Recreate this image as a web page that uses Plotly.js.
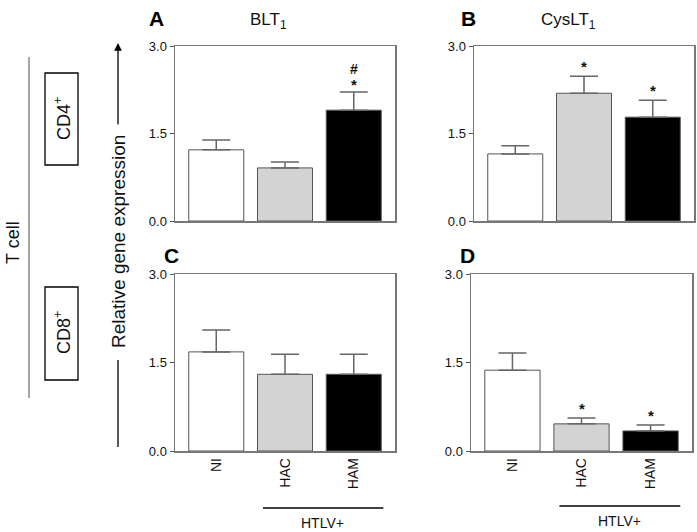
<!DOCTYPE html>
<html>
<head>
<meta charset="utf-8">
<script src="https://cdn.plot.ly/plotly-3.0.1.min.js"></script>
<style>html,body{margin:0;padding:0;background:#fff;}#chart{width:697px;height:532px;}</style>
</head>
<body>
<div id="chart"></div>
<script>
// ---- data ----
const categories = ['NI', 'HAC', 'HAM'];
const barColors = ['#ffffff', '#d3d3d3', '#000000'];
const cd4BLT1 = [1.22, 0.91, 1.90];
const cd4BLT1Err = [0.17, 0.10, 0.31];
const cd4CysLT1 = [1.15, 2.19, 1.78];
const cd4CysLT1Err = [0.14, 0.29, 0.29];
const cd8BLT1 = [1.68, 1.30, 1.30];
const cd8BLT1Err = [0.37, 0.34, 0.34];
const cd8CysLT1 = [1.37, 0.46, 0.34];
const cd8CysLT1Err = [0.29, 0.10, 0.10];
const cd4BLT1Marks = ['', '', '*'];
const cd4BLT1Marks2 = ['', '', '#'];
const cd4CysLT1Marks = ['', '*', '*'];
const cd8BLT1Marks = ['', '', ''];
const cd8CysLT1Marks = ['', '*', '*'];
const yTickVals = [0, 1.5, 3];
const yTickText = ['0.0', '1.5', '3.0'];
const panelLetters = ['A', 'B', 'C', 'D'];
const panelTitles = ['BLT<sub>1</sub>', 'CysLT<sub>1</sub>'];

const W = 697, H = 532;
const px = v => v / W;
const py = v => 1 - v / H;
const FONT = 'Liberation Sans, Arial, sans-serif';

function barTrace(vals, errs, xa, ya) {
  return {
    type: 'bar', x: categories, y: vals, xaxis: xa, yaxis: ya,
    width: 0.8,
    marker: {color: barColors, line: {color: '#555', width: 1}},
    error_y: {type: 'data', array: errs, arrayminus: errs.map(() => 0), symmetric: false,
      color: '#666', thickness: 1.5, width: 14},
    showlegend: false, hoverinfo: 'skip'
  };
}

const data = [
  barTrace(cd4BLT1, cd4BLT1Err, 'x', 'y'),
  barTrace(cd4CysLT1, cd4CysLT1Err, 'x2', 'y2'),
  barTrace(cd8BLT1, cd8BLT1Err, 'x3', 'y3'),
  barTrace(cd8CysLT1, cd8CysLT1Err, 'x4', 'y4')
];

function xAxis(dom, anchor, showLabels) {
  return {
    domain: dom, anchor: anchor, range: [-0.6, 2.6], type: 'category',
    showline: true, mirror: true, linecolor: '#777', linewidth: 1.5,
    ticks: '', showgrid: false, zeroline: false,
    showticklabels: showLabels, tickangle: -90,
    tickfont: {family: FONT, size: 14, color: '#111'}, fixedrange: true
  };
}
function yAxis(dom, anchor) {
  return {
    domain: dom, anchor: anchor, range: [0, 3],
    tickvals: yTickVals, ticktext: yTickText,
    showline: true, mirror: true, linecolor: '#777', linewidth: 1.5,
    ticks: 'outside', ticklen: 4, tickcolor: '#555', tickwidth: 1,
    showgrid: false, zeroline: false,
    tickfont: {family: FONT, size: 13, color: '#111'}, fixedrange: true
  };
}

const topDom = [py(221), py(46)];
const botDom = [py(451), py(274)];
const leftDom = [px(175), px(395)];
const rightTopDom = [px(474), px(694)];
const rightBotDom = [px(471), px(692)];

const annotations = [];
function marks(list, vals, errs, xa, ya, shift, size) {
  list.forEach((m, i) => {
    if (!m) return;
    annotations.push({x: categories[i], y: vals[i] + errs[i], xref: xa, yref: ya,
      text: '<b>' + m + '</b>', showarrow: false, xanchor: 'center', yanchor: 'bottom', yshift: shift,
      font: {family: FONT, size: size || 15, color: '#111'}});
  });
}
marks(cd4BLT1Marks, cd4BLT1, cd4BLT1Err, 'x', 'y', -3);
marks(cd4BLT1Marks2, cd4BLT1, cd4BLT1Err, 'x', 'y', 13, 14);
marks(cd4CysLT1Marks, cd4CysLT1, cd4CysLT1Err, 'x2', 'y2', -1);
marks(cd8BLT1Marks, cd8BLT1, cd8BLT1Err, 'x3', 'y3', -1);
marks(cd8CysLT1Marks, cd8CysLT1, cd8CysLT1Err, 'x4', 'y4', -1);

function txt(x, y, text, size, angle, extra) {
  return Object.assign({x: px(x), y: py(y), xref: 'paper', yref: 'paper', text: text,
    showarrow: false, xanchor: 'center', yanchor: 'middle', textangle: angle || 0,
    font: {family: FONT, size: size, color: '#111'}}, extra || {});
}

// panel letters & titles
const letterPos = [[156, 18], [468, 18], [171, 255], [467, 255]];
panelLetters.forEach((l, i) => {
  annotations.push(txt(letterPos[i][0], letterPos[i][1], '<b>' + l + '</b>', 21, 0,
    {font: {family: FONT, size: 21, color: '#000'}}));
});
annotations.push(txt(268, 21, panelTitles[0], 17));
annotations.push(txt(568, 21, panelTitles[1], 17));

// left-side labels
annotations.push(txt(13, 243, 'T cell', 18, -90));
annotations.push(txt(62, 119, 'CD4<sup>+</sup>', 18, -90));
annotations.push(txt(62, 333, 'CD8<sup>+</sup>', 18, -90));
annotations.push(txt(118, 242, 'Relative gene expression', 19, -90));
// arrow
annotations.push({x: px(118), y: py(43), xref: 'paper', yref: 'paper', ax: 0, ay: 83, axref: 'pixel', ayref: 'pixel',
  text: '', showarrow: true, arrowhead: 2, arrowsize: 1.2, arrowwidth: 1.3, arrowcolor: '#000'});
// HTLV+ labels
annotations.push({x: 1.55, y: py(523), xref: 'x3', yref: 'paper', text: 'HTLV+', showarrow: false,
  xanchor: 'center', yanchor: 'middle', font: {family: FONT, size: 14, color: '#111'}});
annotations.push({x: 1.55, y: py(521), xref: 'x4', yref: 'paper', text: 'HTLV+', showarrow: false,
  xanchor: 'center', yanchor: 'middle', font: {family: FONT, size: 14, color: '#111'}});

const shapes = [
  {type: 'line', xref: 'paper', yref: 'paper', x0: px(29), x1: px(29), y0: py(57), y1: py(398),
    line: {color: '#888', width: 1.5}},
  {type: 'rect', xref: 'paper', yref: 'paper', x0: px(45), x1: px(78), y0: py(73), y1: py(165),
    line: {color: '#000', width: 1.3}},
  {type: 'rect', xref: 'paper', yref: 'paper', x0: px(45), x1: px(78), y0: py(287), y1: py(380),
    line: {color: '#000', width: 1.3}},
  {type: 'line', xref: 'paper', yref: 'paper', x0: px(118), x1: px(118), y0: py(360), y1: py(447),
    line: {color: '#000', width: 1.3}},
  {type: 'line', xref: 'x3', yref: 'paper', x0: 0.68, x1: 2.43, y0: py(508), y1: py(508),
    line: {color: '#000', width: 1.3}},
  {type: 'line', xref: 'x4', yref: 'paper', x0: 0.68, x1: 2.43, y0: py(506), y1: py(506),
    line: {color: '#000', width: 1.3}}
];

const layout = {
  width: W, height: H, margin: {l: 0, r: 0, t: 0, b: 0},
  paper_bgcolor: '#fff', plot_bgcolor: '#fff',
  font: {family: FONT},
  xaxis: xAxis(leftDom, 'y', false),
  yaxis: yAxis(topDom, 'x'),
  xaxis2: xAxis(rightTopDom, 'y2', false),
  yaxis2: yAxis(topDom, 'x2'),
  xaxis3: xAxis(leftDom, 'y3', true),
  yaxis3: yAxis(botDom, 'x3'),
  xaxis4: xAxis(rightBotDom, 'y4', true),
  yaxis4: yAxis(botDom, 'x4'),
  annotations: annotations, shapes: shapes, bargap: 0.2
};

Plotly.newPlot('chart', data, layout, {staticPlot: true, displayModeBar: false});
</script>
</body>
</html>
